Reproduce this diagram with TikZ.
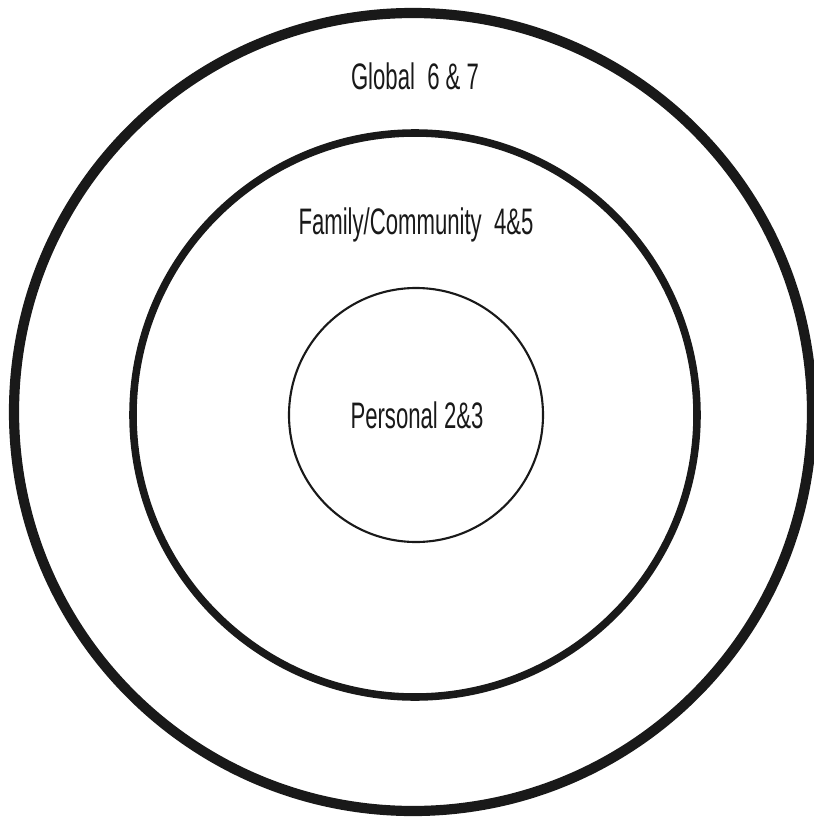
\documentclass[tikz,border=0pt]{standalone}
\usepackage{fontspec}
\setmainfont{Liberation Sans}
\usepackage{graphicx}
\newcommand{\narrow}[1]{\scalebox{0.6}[1]{#1}}
\tikzset{
  ring/.style={draw=black!90},
  lbl/.style={anchor=base, inner sep=0pt, text=black!90, font=\fontsize{21}{24}\selectfont}
}
\begin{document}
\begin{tikzpicture}[x=0.02cm, y=-0.02cm]
    \useasboundingbox (0,0) rectangle (814,821);
    \clip (0,0) rectangle (814,821);

    % Circulos
    \draw[ring, line width=5.8pt] (413,412) circle (399);
    \draw[ring, line width=4.3pt] (415,415) circle (282);
    \draw[ring, line width=1.2pt] (416,415) circle (127);

    % Etiquetas
    \node[lbl] (global) at (415,90) {\narrow{Global\ \ 6\ \&\ 7}};
    \node[lbl] (family) at (416,234) {\narrow{Family/Community\ \ 4\&5}};
    \node[lbl] (personal) at (417,428) {\narrow{Personal\ 2\&3}};
\end{tikzpicture}
\end{document}
